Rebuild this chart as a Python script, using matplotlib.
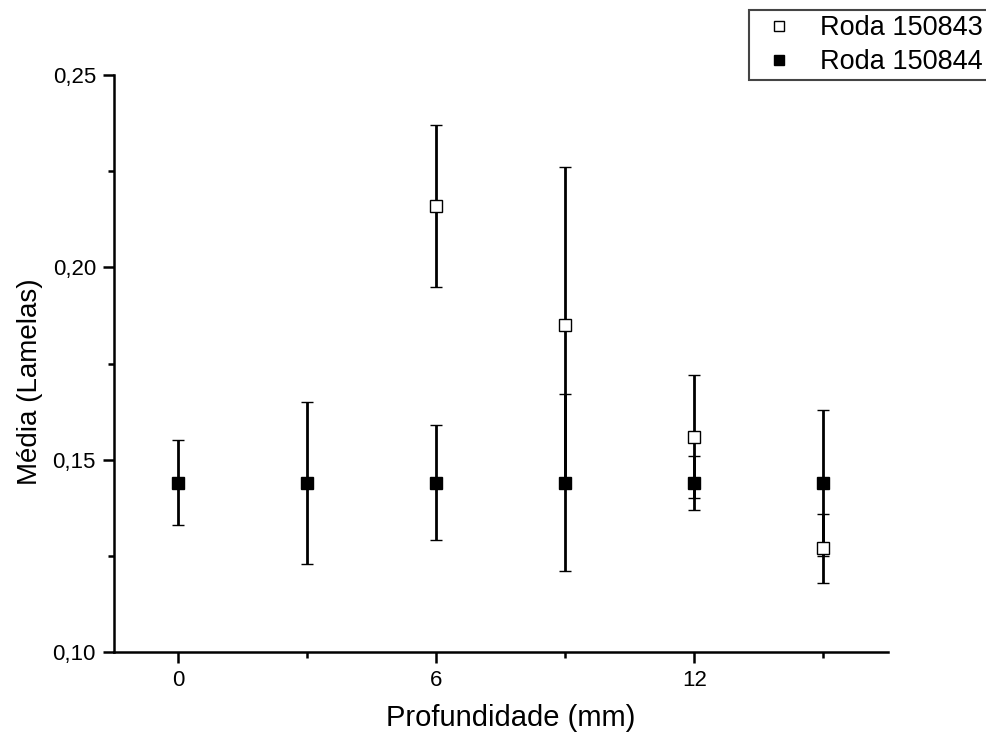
import matplotlib
matplotlib.use("Agg")
import matplotlib.pyplot as plt
from matplotlib.lines import Line2D
from matplotlib.ticker import FuncFormatter, MultipleLocator

# Roda 150843 (quadrado vazio)
x_843 = [6, 9, 12, 15]
y_843 = [0.216, 0.185, 0.156, 0.127]
err_843 = [0.021, 0.041, 0.016, 0.009]

# Roda 150844 (quadrado cheio)
x_844 = [0, 3, 6, 9, 12, 15]
y_844 = [0.144, 0.144, 0.144, 0.144, 0.144, 0.144]
err_844 = [0.011, 0.021, 0.015, 0.023, 0.007, 0.019]

labels = ["Roda 150843", "Roda 150844"]

plt.rcParams["font.family"] = ["Liberation Sans", "DejaVu Sans"]

fig = plt.figure(figsize=(9.87, 7.35), dpi=100)
ax = fig.add_axes([114 / 987, 1 - 652 / 735, (888 - 114) / 987, (652 - 75) / 735])

ebkw = dict(fmt="s", ecolor="black", elinewidth=2.0, capsize=4.5, capthick=2.0,
            markersize=8, markeredgecolor="black", markeredgewidth=1.0)
ax.errorbar(x_844, y_844, yerr=err_844, markerfacecolor="black", zorder=3, **ebkw)
ax.errorbar(x_843, y_843, yerr=err_843, markerfacecolor="white", zorder=4, **ebkw)

ax.set_xlim(-1.5, 16.5)
ax.set_ylim(0.10, 0.25)
ax.xaxis.set_major_locator(MultipleLocator(6))
ax.xaxis.set_minor_locator(MultipleLocator(3))
ax.yaxis.set_major_locator(MultipleLocator(0.05))
ax.yaxis.set_minor_locator(MultipleLocator(0.025))
ax.yaxis.set_major_formatter(FuncFormatter(lambda v, p: f"{v:.2f}".replace(".", ",")))

for side in ("top", "right"):
    ax.spines[side].set_visible(False)
for side in ("left", "bottom"):
    ax.spines[side].set_linewidth(1.8)
ax.tick_params(which="major", direction="out", length=8, width=1.8, labelsize=16, pad=5)
ax.tick_params(which="minor", direction="out", length=4.5, width=1.8)

ax.set_xlabel("Profundidade (mm)", fontsize=21, labelpad=9)
ax.set_ylabel("Média (Lamelas)", fontsize=20, labelpad=7)
ax.xaxis.label.set_x(0.513)
ax.yaxis.label.set_y(0.469)

handles = [
    Line2D([], [], ls="none", marker="s", markersize=7, markerfacecolor="white",
           markeredgecolor="black", markeredgewidth=1.0),
    Line2D([], [], ls="none", marker="s", markersize=7, markerfacecolor="black",
           markeredgecolor="black"),
]
leg = fig.legend(handles, labels, loc="upper left", bbox_to_anchor=(749 / 987, 1 - 10 / 735),
                 fontsize=19.5, frameon=True, fancybox=False, framealpha=1,
                 edgecolor="#444444", borderpad=0.2, labelspacing=0.28,
                 handletextpad=0.62, handlelength=1.8, borderaxespad=0)
leg.get_frame().set_linewidth(1.5)

fig.savefig("out.png", dpi=100)
